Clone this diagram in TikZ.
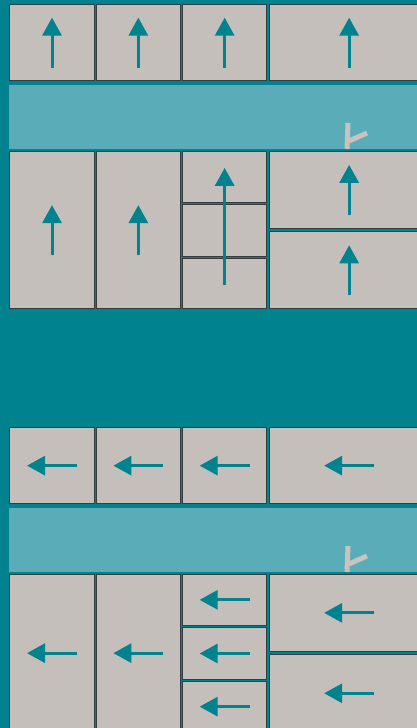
\documentclass[tikz,border=0pt]{standalone}
\usetikzlibrary{arrows.meta}

\definecolor{deepteal}{RGB}{0,131,143}
\definecolor{bandteal}{RGB}{90,173,184}
\definecolor{cellgray}{RGB}{196,191,187}
\definecolor{celledge}{RGB}{52,62,64}
\definecolor{markgray}{RGB}{200,195,190}

% one cell, given by its outer corners in pixels
\newcommand{\cellbox}[5]{%
  \node[cell, minimum width={(#4-#2-1.1)*1pt}, minimum height={(#5-#3-1.1)*1pt}]
    (#1) at ({(#2+#4)/2},{(#3+#5)/2}) {};}

\begin{document}
\begin{tikzpicture}[
  x=1pt, y=-1pt,
  cell/.style={draw=celledge, fill=cellgray, line width=1.1pt, inner sep=0pt, outer sep=0pt},
  band/.style={fill=bandteal, inner sep=0pt, outer sep=0pt},
  flow/.style={draw=deepteal, line width=3pt, -{Triangle[length=18pt, width=19pt]}},
  grip/.style={draw=markgray, line width=5pt}
]
\useasboundingbox (0,0) rectangle (417,728);
\fill[deepteal] (0,0) rectangle (417,728);

\foreach \g/\dy in {t/0, l/423}{
  \begin{scope}[shift={(0,\dy)}]
    \cellbox{\g a1}{9.3}{4}{94.7}{81.3}
    \cellbox{\g a2}{96}{4}{180.7}{81.3}
    \cellbox{\g a3}{182}{4}{267.3}{81.3}
    \cellbox{\g a4}{269.3}{4}{429}{81.3}
    \node[band, minimum width=408pt, minimum height=64pt] (\g band) at (213,117) {};
    \cellbox{\g b1}{9.3}{151}{94.7}{309.3}
    \cellbox{\g b2}{96}{151}{180.7}{309.3}
    \cellbox{\g b3a}{182}{151}{267.3}{202.7}
    \cellbox{\g b3b}{182}{204.3}{267.3}{256.7}
    \cellbox{\g b3c}{182}{258}{267.3}{309.3}
    \cellbox{\g b4a}{269.3}{151}{429}{228.7}
    \cellbox{\g b4b}{269.3}{231.3}{429}{309.3}
    % grip mark
    \draw[grip] (348,123) -- (347,149);
    \draw[grip] (349,141) -- (367,133);
  \end{scope}
}

% upward arrows
\foreach \n in {a1,a2,a3,a4,b1,b2,b4a,b4b}
  \draw[flow] ([yshift=-25pt]t\n.center) -- ([yshift=25pt]t\n.center);
\draw[flow] ([yshift=-1.5pt]tb3c.center) -- ([yshift=9pt]tb3a.center);

% leftward arrows
\foreach \n in {a1,a2,a3,a4,b1,b2,b3a,b3b,b3c,b4a,b4b}
  \draw[flow] ([xshift=25pt]l\n.center) -- ([xshift=-25pt]l\n.center);
\end{tikzpicture}
\end{document}
